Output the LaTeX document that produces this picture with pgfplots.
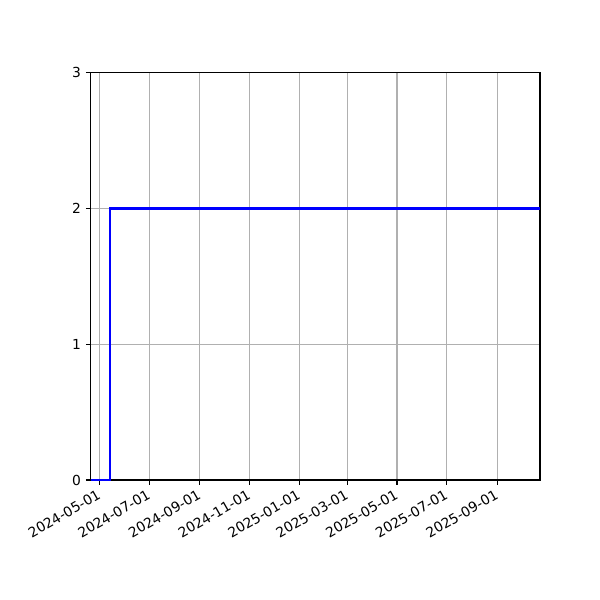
\documentclass[border=0pt]{standalone}
\usepackage{pgfplots}
\pgfplotsset{compat=1.18}
\usepackage{fontspec}
\setmainfont{DejaVu Sans}

% x = days since 2024-05-01
\begin{document}
\begin{tikzpicture}
\path[use as bounding box] (-0.906in,-1.2in) rectangle (5.094in,4.8in);
\begin{axis}[
    scale only axis,
    width=4.494in, height=4.073in,
    xmin=-11, xmax=540.5,
    ymin=0, ymax=3,
    xtick={0,61,123,184,245,304,365,426,488},
    xticklabels={2024-05-01,2024-07-01,2024-09-01,2024-11-01,2025-01-01,2025-03-01,2025-05-01,2025-07-01,2025-09-01},
    ytick={0,1,2,3},
    xticklabel style={rotate=30, anchor=north east, font=\fontsize{10}{12}\selectfont, yshift=2pt},
    yticklabel style={font=\fontsize{10}{12}\selectfont},
    /pgf/number format/assume math mode=true,
    grid=major,
    major grid style={color=black!31, line width=0.8pt},
    axis line style={line width=0.8pt},
    tick style={black, line width=0.8pt},
    tick align=outside,
    major tick length=3.5pt,
    xtick pos=bottom, ytick pos=left,
    clip=false,
]
\addplot[color=blue, line width=1.5pt, const plot] coordinates {
    (-10.5,0) (13,2) (540.5,2)
};
\end{axis}
\end{tikzpicture}
\end{document}
